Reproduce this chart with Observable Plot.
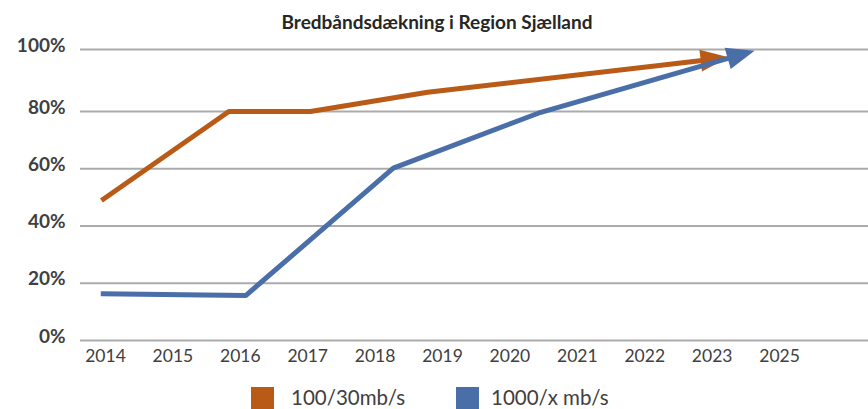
<!DOCTYPE html>
<html>
<head>
<meta charset="utf-8">
<script src="https://cdn.jsdelivr.net/npm/d3@7"></script>
<script src="https://cdn.jsdelivr.net/npm/@observablehq/plot@0.6"></script>
<style>
  html, body { margin: 0; padding: 0; background: #fff; }
  #wrap { position: relative; width: 868px; height: 409px; overflow: hidden; font-family: Lato, "Open Sans", sans-serif; color: #404040; }
  #title { position: absolute; left: 0; top: 10px; width: 874px; text-align: center; font-weight: bold; font-size: 19px; color: #262626; line-height: 24px; }
  #chart { position: absolute; left: 0; top: 40px; }
  .sw { position: absolute; top: 387px; width: 23px; height: 23px; }
  .lt { position: absolute; top: 386px; font-size: 20.5px; line-height: 22px; color: #404040; white-space: nowrap; }
</style>
</head>
<body>
<div id="wrap">
  <div id="title"></div>
  <div id="chart"></div>
  <div class="sw" id="sw0" style="left:251px"></div>
  <div class="lt" id="lt0" style="left:291px"></div>
  <div class="sw" id="sw1" style="left:456px"></div>
  <div class="lt" id="lt1" style="left:491px"></div>
</div>
<script>
const title = "Bredbåndsdækning i Region Sjælland";
const xLabels = ["2014","2015","2016","2017","2018","2019","2020","2021","2022","2023","2025"];
const yTicks = [0, 20, 40, 60, 80, 100];
const seriesNames = ["100/30mb/s", "1000/x mb/s"];
const seriesColors = ["#B95B17", "#4A6EA7"];
// positions on the category axis (0 = 2014, 10 = 2025) and coverage in %
const orangeX = [-0.06, 1.83, 3.04, 4.78, 9.14];
const orangeY = [48.9, 80, 80, 86.2, 97.2];
const blueX = [-0.07, 2.08, 4.27, 6.42, 9.53];
const blueY = [16.3, 15.7, 60.2, 79.4, 99.0];

const rows = [
  ...orangeX.map((x, i) => ({series: seriesNames[0], x, y: orangeY[i]})),
  ...blueX.map((x, i) => ({series: seriesNames[1], x, y: blueY[i]}))
];

document.getElementById("title").textContent = title;
document.getElementById("lt0").textContent = seriesNames[0];
document.getElementById("lt1").textContent = seriesNames[1];
document.getElementById("sw0").style.background = seriesColors[0];
document.getElementById("sw1").style.background = seriesColors[1];

function arrowHead(color) {
  const ns = "http://www.w3.org/2000/svg";
  const m = document.createElementNS(ns, "marker");
  m.setAttribute("viewBox", "-21 -11 28 22");
  m.setAttribute("markerWidth", 28);
  m.setAttribute("markerHeight", 22);
  m.setAttribute("markerUnits", "userSpaceOnUse");
  m.setAttribute("orient", "auto");
  m.setAttribute("refX", 0);
  m.setAttribute("refY", 0);
  m.setAttribute("overflow", "visible");
  const p = document.createElementNS(ns, "path");
  p.setAttribute("d", "M-21,-11L7,0L-21,11Z");
  p.setAttribute("fill", color);
  p.setAttribute("stroke", "none");
  m.appendChild(p);
  return m;
}

const chart = Plot.plot({
  width: 868,
  height: 330,
  marginLeft: 80,
  marginRight: 0,
  marginTop: 9,
  marginBottom: 30,
  style: {fontFamily: "Lato, 'Open Sans', sans-serif", background: "transparent", overflow: "visible"},
  x: {type: "linear", domain: [-0.371, 11.32], axis: null},
  y: {type: "linear", domain: [0, 80, 100], range: [300, 71, 9], axis: null},
  color: {domain: seriesNames, range: seriesColors},
  marks: [
    Plot.ruleY(yTicks, {stroke: "#ababab", strokeWidth: 2.2}),
    Plot.axisY(yTicks, {anchor: "left", tickSize: 0, tickPadding: 15, tickFormat: d => d + "%", fontSize: 19, fontWeight: "bold", fill: "#404040", dy: -4, label: null}),
    Plot.axisX(d3.range(xLabels.length), {anchor: "bottom", tickSize: 0, tickPadding: 9, tickFormat: i => xLabels[i], fontSize: 17.5, fill: "#404040", label: null}),
    Plot.line(rows, {x: "x", y: "y", z: "series", stroke: "series", strokeWidth: 5, strokeLinejoin: "miter", strokeLinecap: "butt", markerEnd: arrowHead})
  ]
});
document.getElementById("chart").appendChild(chart);
</script>
</body>
</html>
